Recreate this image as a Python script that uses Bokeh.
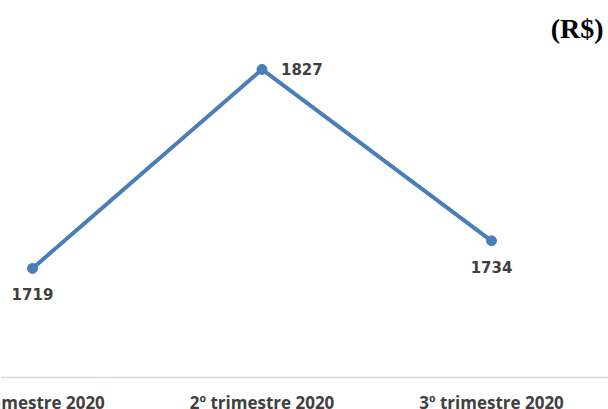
from bokeh.plotting import figure
from bokeh.models import ColumnDataSource, Range1d, LabelSet, Label, Span
from bokeh.core.properties import value
from bokeh.embed import file_html
from bokeh.resources import INLINE

# Quarterly values in R$
quarters = ["1º trimestre 2020", "2º trimestre 2020", "3º trimestre 2020"]
values = [1719, 1827, 1734]

xs = list(range(len(quarters)))
label_dx = [0, 19, 0]
label_dy = [-26, 0, -26]
label_align = ["center", "left", "center"]

src = ColumnDataSource(dict(
    x=xs, y=values, txt=[str(v) for v in values],
    dx=label_dx, dy=label_dy, align=label_align,
))

# vertical scale: frame covers the whole canvas, baseline drawn as a rule
H = 409
PX_PER_UNIT = 1.8426
y_top = 1864.4
y_bottom = y_top - H / PX_PER_UNIT
baseline = y_top - 377 / PX_PER_UNIT
cat_label_y = y_top - 401.5 / PX_PER_UNIT

p = figure(width=608, height=H, output_backend="svg", toolbar_location=None,
           x_range=Range1d(-0.1394, 2.5098), y_range=Range1d(y_bottom, y_top),
           min_border=0)
p.xaxis.visible = False
p.yaxis.visible = False
p.xgrid.grid_line_color = None
p.ygrid.grid_line_color = None
p.outline_line_color = None

# category axis: baseline and quarter names
p.add_layout(Span(location=baseline, dimension="width",
                  line_color="#d9d9d9", line_width=1.5))
cat_src = ColumnDataSource(dict(x=xs, y=[cat_label_y] * len(xs), txt=quarters))
p.text("x", "y", text="txt", source=cat_src, text_align="center",
       text_baseline="middle", text_font=value("Open Sans"),
       text_font_style="bold", text_font_size="17px", text_color="#404040")

p.line("x", "y", source=src, line_color="#4a7ebb", line_width=4)
p.scatter("x", "y", source=src, size=10, fill_color="#4a7ebb", line_color="#4a7ebb")

labels = LabelSet(x="x", y="y", text="txt", source=src,
                  x_offset="dx", y_offset="dy", text_align="align",
                  text_baseline="middle", text_font=value("DejaVu Sans"),
                  text_font_style="bold", text_font_size="15px",
                  text_color="#404040")
p.add_layout(labels)

unit = Label(x=2.488, y=y_top - 28 / PX_PER_UNIT, text="(R$)",
             text_font="Liberation Serif", text_font_style="bold",
             text_font_size="28px", text_color="#000000",
             text_align="right", text_baseline="middle")
p.add_layout(unit)

open("out.html", "w").write(file_html(p, INLINE))
